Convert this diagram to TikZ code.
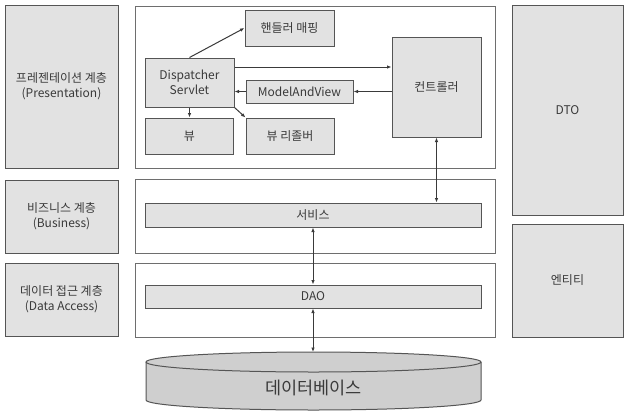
\documentclass[tikz,border=0pt]{standalone}
\usepackage{fontspec}
\setmainfont{Noto Sans CJK KR}
\usetikzlibrary{arrows.meta}
\definecolor{Ink}{HTML}{3A3A3A}
\definecolor{Edge}{HTML}{555555}
\definecolor{LayerEdge}{HTML}{6E6E6E}
\definecolor{BoxGray}{HTML}{E2E2E2}
\definecolor{DbGray}{HTML}{CFCFCF}

\begin{document}
\begin{tikzpicture}[x=1pt,y=-1pt,
  every node/.style={text=Ink,font=\fontsize{12}{15}\selectfont,align=center,inner sep=0pt},
  blk/.style={draw=Edge,fill=BoxGray,line width=1pt},
  layer/.style={draw=LayerEdge,line width=0.9pt},
  link/.style={draw=Ink,line width=1pt},
  >={Latex[length=4.5pt,width=3.5pt]}]
\useasboundingbox (0,0) rectangle (633,416);
\fill[white] (0,0) rectangle (633,416);
% layer names
\node[blk,minimum width=113pt,minimum height=163pt] (pres) at (61.5,86.5) {프레젠테이션 계층\\(Presentation)};
\node[blk,minimum width=113pt,minimum height=73pt] (biz) at (61.5,216.5) {비즈니스 계층\\(Business)};
\node[blk,minimum width=113pt,minimum height=73pt] (data) at (61.5,299.5) {데이터 접근 계층\\(Data Access)};
% layer frames
\draw[layer] (135,6) rectangle (495,168);
\draw[layer] (135,179) rectangle (495,253);
\draw[layer] (135,263) rectangle (495,337);
% presentation parts
\node[blk,minimum width=89pt,minimum height=36pt] (hmap) at (289.5,28) {핸들러 매핑};
\node[blk,minimum width=89pt,minimum height=49pt] (ds) at (189.5,82.5) {Dispatcher\\Servlet};
\node[blk,minimum width=107pt,minimum height=23pt] (mav) at (299.5,91.5) {ModelAndView};
\node[blk,minimum width=89pt,minimum height=100pt] (ctrl) at (436.5,87) {컨트롤러};
\node[blk,minimum width=88pt,minimum height=36pt] (view) at (189.5,136) {뷰};
\node[blk,minimum width=88pt,minimum height=36pt] (vres) at (290,136) {뷰 리졸버};
% service and dao
\node[blk,minimum width=336pt,minimum height=24pt] (svc) at (313,215) {서비스};
\node[blk,minimum width=336pt,minimum height=23pt] (dao) at (313,296.5) {DAO};
% right column
\node[blk,minimum width=111pt,minimum height=210pt] (dto) at (567.5,110) {DTO};
\node[blk,minimum width=111pt,minimum height=113pt] (ent) at (567.5,280.5) {엔티티};
% database
\filldraw[fill=DbGray,draw=Edge,line width=1pt] (146,362) -- (146,400)
  arc[start angle=180,end angle=360,x radius=167.5pt,y radius=10pt] -- (481,362);
\filldraw[fill=DbGray,draw=Edge,line width=1pt] (313.5,362) ellipse[x radius=167.5pt,y radius=10pt];
\coordinate (dbtop) at (313,352);
\node[font=\fontsize{17.5}{20}\selectfont] (db) at (313.5,388) {데이터베이스};
% connectors
\draw[link,->] (ds.north) -- (hmap.west);
\draw[link,->] (ds.east |- 0,67) -- (ctrl.west |- 0,67);
\draw[link,->] (ctrl.west |- mav.east) -- (mav.east);
\draw[link,->] (mav.west) -- (mav.west -| ds.east);
\draw[link,->] (ds.south) -- (view.north);
\draw[link,->] (ds.south east) -- (vres.north west);
\draw[link,<->] (ctrl.south) -- (ctrl.south |- svc.north);
\draw[link,<->] (svc.south) -- (dao.north);
\draw[link,<->] (dao.south) -- (dbtop);
\end{tikzpicture}
\end{document}
